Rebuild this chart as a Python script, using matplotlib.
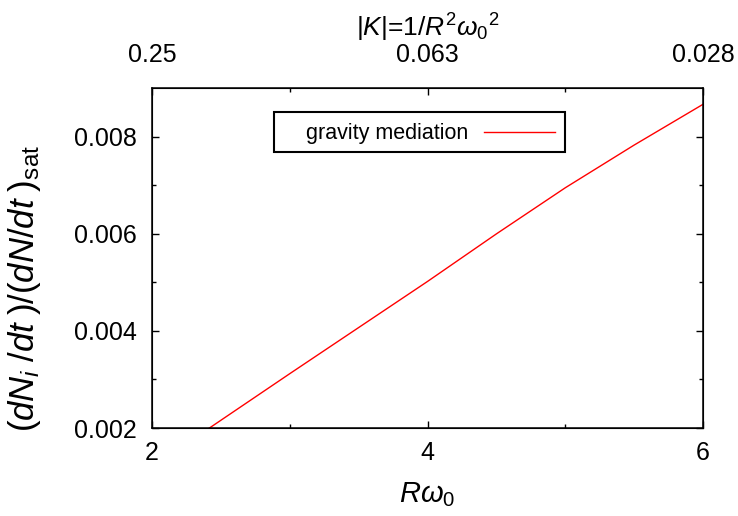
import numpy as np
import matplotlib
matplotlib.use('Agg')
import matplotlib.pyplot as plt
from matplotlib.patches import Rectangle

plt.rcParams['font.family'] = ['Liberation Sans', 'DejaVu Sans']
plt.rcParams['mathtext.fontset'] = 'custom'
plt.rcParams['mathtext.rm'] = 'Liberation Sans'
plt.rcParams['mathtext.it'] = 'Liberation Sans:italic'
plt.rcParams['mathtext.bf'] = 'Liberation Sans:bold'

# R*omega_0 and rate ratio
r_omega = [2.0, 2.5, 3.0, 3.5, 4.0, 4.5, 5.0, 5.5, 6.0]
rate = [0.00120, 0.00216, 0.00312, 0.00407, 0.00502, 0.00600, 0.00695, 0.00783, 0.00867]

top_ticks = [2, 4, 6]
top_labels = ['0.25', '0.063', '0.028']

fig = plt.figure(figsize=(7.38, 5.16), dpi=100)
ax = fig.add_axes([0.206, 0.1705, 0.7466, 0.6584])

ax.plot(r_omega, rate, color='red', lw=1.0, label='gravity mediation')
ax.set_xlim(2, 6)
ax.set_ylim(0.002, 0.009)
ax.set_xticks([2, 4, 6])
ax.set_xticks([3, 5], minor=True)
ax.set_yticks([0.002, 0.004, 0.006, 0.008])
ax.set_yticklabels(['0.002', '0.004', '0.006', '0.008'])
ax.set_yticks([0.003, 0.005, 0.007], minor=True)
ax.tick_params(which='both', direction='in', top=False, right=True, width=1.0)
ax.tick_params(which='major', length=5)
ax.tick_params(which='minor', length=3)
ax.tick_params(axis='x', labelsize=18, pad=9)
ax.tick_params(axis='y', labelsize=18, pad=11)
for s in ax.spines.values():
    s.set_linewidth(1.1)

ax.set_xlabel(r'$R\omega_0$', fontsize=21, labelpad=11)
ax.set_ylabel(r'$(dN_i\;/dt\;)/(dN/dt\;)_{\mathrm{sat}}$', fontsize=25)
ax.yaxis.set_label_coords(-0.198, 0.41)

ax2 = ax.twiny()
ax2.set_xlim(ax.get_xlim())
ax2.set_xticks(top_ticks)
ax2.set_xticklabels(top_labels)
ax2.set_xticks([3, 5], minor=True)
ax2.tick_params(which='both', direction='in', width=1.0)
ax2.tick_params(which='major', length=5)
ax2.tick_params(which='minor', length=3)
ax2.tick_params(axis='x', labelsize=18, pad=15)
ax2.set_xlabel(r'$|K|$=1/$R^2\omega_0{}^2$', fontsize=19, labelpad=5)

# legend text + sample, with its box drawn separately
leg = ax.legend(loc='center left', bbox_to_anchor=(0.2395, 0.866), fontsize=15.5,
                markerfirst=False, handlelength=3.3, handletextpad=0.75,
                borderpad=0.5, frameon=False)
ax.add_patch(Rectangle((0.2214, 0.813), 0.528, 0.118, transform=ax.transAxes,
                       fill=False, edgecolor='black', lw=1.5, zorder=5))

fig.savefig('out.png', dpi=100)
